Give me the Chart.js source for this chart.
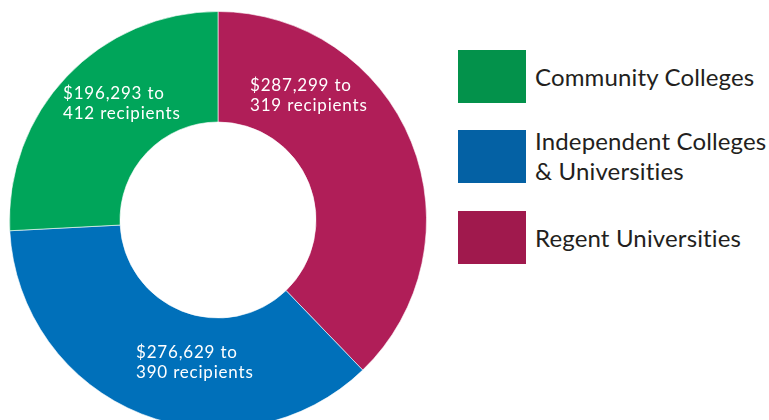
<!DOCTYPE html>
<html>
<head>
<meta charset="utf-8">
<script src="https://cdn.jsdelivr.net/npm/chart.js@4/dist/chart.umd.min.js"></script>
<style>
    html, body {
        margin: 0;
        padding: 0;
        width: 769px;
        height: 420px;
        overflow: hidden;
        background: #fff;
    }
    .chart-wrap {
        position: absolute;
        left: 9px;
        top: 11px;
        width: 418px;
        height: 418px;
    }
    .legend {
        position: absolute;
        left: 458px;
        top: 0;
        font-family: Lato, "Open Sans", sans-serif;
        font-size: 24px;
        line-height: 30px;
        color: #231f20;
    }
    .legend-item {
        position: absolute;
        left: 0;
        width: 320px;
    }
    .legend-box {
        position: absolute;
        left: 0;
        width: 68px;
        height: 53px;
    }
    .legend-text {
        position: absolute;
        left: 77px;
        white-space: nowrap;
        letter-spacing: 0.15px;
    }
</style>
</head>
<body>
<div class="chart-wrap"><canvas id="donut"></canvas></div>
<div class="legend" id="legend"></div>

<script>
// Slices, clockwise from 12 o'clock
const categories = ['Regent Universities', 'Independent Colleges & Universities', 'Community Colleges'];
const amounts = [287299, 276629, 196293];
const recipients = [319, 390, 412];

const sliceColors = ['#b01e58', '#0070ba', '#00a55a'];
const legendColors = ['#a0194d', '#0461a4', '#03924b'];

// legend is listed in the reverse order of the slices
const legendOrder = [2, 1, 0];
const legendLines = {
    0: ['Regent Universities'],
    1: ['Independent Colleges', '& Universities'],
    2: ['Community Colleges']
};

// where each slice label sits, relative to the donut centre (left edge, first baseline)
const labelOffsets = [[32, -129], [-82, 138], [-155, -121]];

function money(v) {
    return '$' + v.toLocaleString('en-US');
}

// Build the legend
const legendEl = document.getElementById('legend');
const boxTops = [50, 130, 211];
const textTops = [62, 126, 223];
legendOrder.forEach((idx, i) => {
    const item = document.createElement('div');
    item.className = 'legend-item';
    item.style.top = '0px';

    const box = document.createElement('div');
    box.className = 'legend-box';
    box.style.top = boxTops[i] + 'px';
    box.style.background = legendColors[idx];

    const text = document.createElement('div');
    text.className = 'legend-text';
    text.style.top = textTops[i] + 'px';
    text.innerHTML = legendLines[idx].join('<br>');

    item.appendChild(box);
    item.appendChild(text);
    legendEl.appendChild(item);
});

// Draw the text inside the slices
const sliceLabels = {
    id: 'sliceLabels',
    afterDatasetsDraw(chart) {
        const ctx = chart.ctx;
        const arcs = chart.getDatasetMeta(0).data;
        ctx.save();
        ctx.fillStyle = '#ffffff';
        ctx.font = '17px Lato, "Open Sans", sans-serif';
        ctx.letterSpacing = '0.8px';
        ctx.textAlign = 'left';
        ctx.textBaseline = 'alphabetic';
        arcs.forEach((arc, i) => {
            const x = arc.x + labelOffsets[i][0];
            const y = arc.y + labelOffsets[i][1];
            ctx.fillText(money(amounts[i]) + ' to', x, y);
            ctx.fillText(recipients[i] + ' recipients', x, y + 20);
        });
        ctx.restore();
    }
};

new Chart(document.getElementById('donut'), {
    type: 'doughnut',
    data: {
        labels: categories,
        datasets: [{
            data: amounts,
            backgroundColor: sliceColors,
            borderColor: 'rgba(255, 255, 255, 0.6)',
            borderWidth: 1
        }]
    },
    options: {
        responsive: true,
        maintainAspectRatio: false,
        animation: false,
        cutout: '47%',
        layout: { padding: 0 },
        plugins: {
            legend: { display: false },
            tooltip: { enabled: false }
        }
    },
    plugins: [sliceLabels]
});
</script>
</body>
</html>
